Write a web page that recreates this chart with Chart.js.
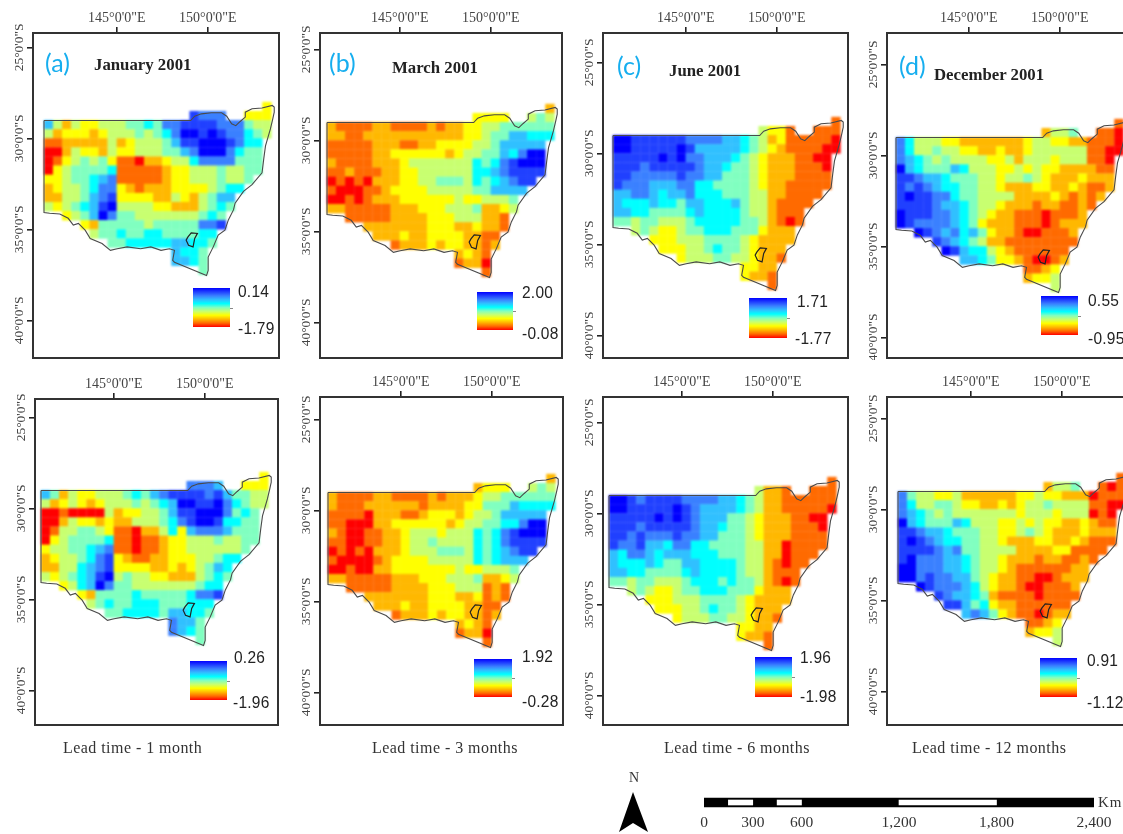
<!DOCTYPE html>
<html><head><meta charset="utf-8">
<script src="https://cdn.jsdelivr.net/npm/chart.js@4"></script>
<style>
html,body{margin:0;padding:0;background:#fff;width:1123px;height:834px;overflow:hidden}
#page{position:relative;width:1123px;height:834px;overflow:hidden;filter:blur(.45px)}
canvas{position:absolute}
canvas.cells{filter:blur(1.3px)}
.t{position:absolute;white-space:nowrap;line-height:1}
.serif{font-family:"Liberation Serif",serif;color:#333}
</style></head><body><div id="page"></div>
<script>
// ---------- colour levels read per grid cell (0 = top of colour bar, 10 = bottom) ----------
const levelsA=[[7],[1,2,2,2,7,7,7],
[3,6,8,6,7,7,6,6,6,5,5,4,5,2,2,1,1,1,1,2,2,2,5,6,6],
[6,8,7,7,7,8,7,6,6,6,5,6,5,4,2,0,0,1,0,1,2,2,4,5,6],
[9,9,8,8,8,8,8,6,8,7,6,6,6,5,3,1,1,0,0,0,1,2,4,4],
[10,10,8,6,7,7,8,6,7,7,6,6,6,5,5,3,2,0,0,0,2,4,5,5],
[10,9,7,6,5,6,5,7,9,9,10,8,8,7,6,6,4,2,2,2,2,5,5,5],
[10,7,6,5,5,5,5,4,9,9,9,9,9,8,7,7,6,6,6,5,6,6,5,5],
[7,7,6,5,5,4,3,2,9,9,9,9,9,8,7,7,6,6,6,5,6,6,5],
[8,7,6,6,5,4,2,2,7,8,9,8,8,8,7,7,7,7,6,5,4,4],
[8,8,6,6,5,3,2,1,7,7,7,7,8,8,6,7,8,6,5,3,3],
[6,7,6,5,4,3,1,0,6,6,6,6,7,7,8,8,8,6,5,4,5],
[7,6,5,3,0,2,5,5,6,6,6,6,6,6,6,5,4,5],
[7,8,5,5,5,5,5,6,5,5,5,5,5,2,2,1],
[6,5,5,4,5,5,4,4,5,5,5,5,4,4],
[5,5,4,4,4,4,4,3,3,4,4,5],
[3,4,4,5],[3,3,4,5],[5]];
const levelsB=[[8],[7,7,7,7,6,5,6],
[8,9,9,9,9,8,8,9,9,9,9,8,9,8,8,7,7,6,6,5,5,5,5,5,5],
[8,8,9,9,8,8,8,8,8,8,8,8,8,8,8,7,7,6,5,5,3,3,4,4,4],
[9,9,9,9,9,8,8,8,9,9,8,8,7,7,7,7,6,6,5,3,3,3,3,3],
[9,9,9,9,9,8,8,7,7,7,7,7,7,8,7,6,6,5,5,3,4,2,0,0],
[8,9,9,9,9,8,8,8,7,6,6,6,6,6,6,6,4,5,4,2,1,0,0,0],
[9,9,8,9,9,9,8,8,7,7,6,6,6,6,6,6,4,4,3,2,1,1,1,1],
[10,9,10,9,10,8,8,8,7,7,6,6,5,5,5,6,4,5,4,3,2,1,1],
[9,10,10,10,9,9,8,7,7,7,7,6,6,6,6,6,5,5,3,3,3,3],
[10,10,9,10,9,8,8,8,7,7,7,7,7,7,6,7,7,6,6,6,5],
[8,8,9,9,9,9,9,8,8,8,7,7,7,6,6,6,5,8,8,7,6],
[9,9,9,9,9,8,8,8,8,7,7,7,6,6,6,8,8,9],
[8,8,8,8,8,8,8,7,7,7,8,8,7,8,8,9],
[8,8,8,7,8,8,7,7,7,7,8,8,9,9],
[9,8,8,8,7,8,7,7,8,8,9,8],
[8,7,8,9],[9,8,8,10],[9]];
const levelsC=[[9],[6,7,7,9,9,9,9],
[0,0,1,1,1,1,1,1,2,2,2,2,3,3,4,5,6,8,7,9,9,9,9,9,10],
[0,0,1,1,1,1,1,0,1,3,3,3,3,3,4,5,6,7,8,9,9,9,9,10,10],
[1,1,1,1,1,0,1,0,2,2,3,3,3,4,5,6,7,8,8,8,9,9,10,10],
[1,1,1,2,1,1,1,1,1,2,3,3,4,5,5,6,7,8,8,8,9,9,9,10],
[1,1,2,2,2,2,2,1,2,2,3,3,5,5,5,6,7,8,8,8,9,9,9,9],
[1,2,2,2,3,3,3,2,2,4,4,5,5,5,5,6,7,8,8,9,9,9,9,9],
[3,3,2,2,3,4,3,3,2,4,4,4,5,5,5,6,6,8,8,9,9,9,9],
[3,4,4,4,3,4,4,5,3,3,4,4,4,3,5,6,6,8,9,9,9,9],
[3,3,4,4,5,5,5,5,4,3,4,4,4,4,5,6,6,8,9,9,9],
[5,5,6,5,5,6,6,6,5,4,4,4,4,4,5,5,6,8,9,10,9],
[6,5,6,7,7,6,5,5,4,4,4,5,5,5,7,8,8,8],
[7,7,7,6,6,6,5,5,5,5,6,7,8,8,8,8],
[7,7,7,6,6,5,4,5,5,6,7,8,8,8],
[7,6,6,6,5,5,6,6,7,8,8,9],
[7,7,8,8],[7,8,8,9],[9]];
const levelsD=[[9],[8,6,6,5,9,9,10],
[2,4,6,6,6,7,7,8,8,8,8,8,8,8,7,6,6,7,7,8,8,9,9,9,10],
[2,4,6,6,5,6,6,7,7,8,8,7,8,8,7,6,6,6,6,6,6,9,9,10,10],
[2,3,4,5,6,5,6,6,6,6,7,7,6,8,6,6,6,7,6,6,6,9,9,10],
[0,3,4,5,5,5,3,4,6,6,6,7,7,6,7,6,7,7,8,8,8,8,9,9],
[1,1,2,3,3,4,5,5,5,6,6,7,6,6,5,6,7,8,8,8,7,8,8,8],
[1,2,1,2,3,4,4,5,5,6,6,7,8,8,8,7,7,8,8,7,8,9,9,8],
[1,0,1,1,2,2,4,5,5,6,6,6,6,8,8,8,8,7,8,9,8,9,8],
[1,1,1,1,2,3,3,4,5,6,6,7,8,8,8,9,8,8,9,9,8,9],
[0,1,1,1,2,2,3,4,5,6,7,8,8,9,9,9,10,9,9,9,8],
[0,1,2,2,2,2,3,4,5,7,8,8,8,9,9,9,10,9,8,8,8],
[0,1,2,3,2,4,3,5,7,8,8,9,10,10,9,9,9,8],
[1,2,3,4,5,6,8,8,9,9,9,9,9,9,9,9],
[0,1,3,4,4,6,7,8,9,9,9,9,9,9],
[3,3,4,5,7,7,8,9,10,10,9,8],
[9,9,8,7],[8,7,7,6],[6]];
const levelsE=[[7],[2,2,2,3,7,7,7],
[3,5,8,6,7,7,6,6,6,5,4,5,3,2,1,1,1,1,2,1,3,5,5,6,6],
[6,8,7,6,7,8,7,6,6,6,5,6,5,4,3,0,0,1,1,0,2,4,5,6,6],
[10,10,9,10,10,10,10,6,8,7,7,6,6,5,3,1,1,0,0,0,2,5,4,5],
[10,10,8,6,7,7,8,7,8,8,6,6,6,5,4,2,1,0,0,1,4,4,5,5],
[10,9,6,6,5,5,6,7,9,9,10,8,8,6,4,7,3,2,2,2,3,5,5,5],
[10,7,6,5,5,5,5,4,9,9,10,9,9,8,7,7,6,6,6,5,6,6,5,5],
[7,6,6,5,5,4,3,2,9,9,10,9,9,8,7,7,6,6,6,6,6,6,5],
[8,7,6,6,5,4,2,1,7,8,9,9,8,8,7,7,7,6,6,5,4,4],
[8,8,6,6,4,3,2,1,7,7,7,7,8,8,7,8,7,6,5,3,4],
[6,7,6,5,4,3,1,0,6,5,6,6,7,7,8,8,8,6,5,4,5],
[7,6,4,3,0,2,5,5,6,6,6,6,6,6,6,5,4,4],
[7,8,5,5,5,5,4,5,5,5,5,5,4,2,2,1],
[6,5,4,5,5,4,4,4,5,5,5,4,4,4],
[5,5,4,4,4,4,5,3,3,4,4,5],
[2,3,3,5],[2,3,4,5],[5]];
const levelsF=[[8],[8,7,7,7,6,5,6],
[8,9,9,9,9,8,8,9,9,9,9,8,9,8,8,8,7,6,6,5,5,5,5,5,5],
[8,9,9,9,8,8,8,8,8,8,9,8,8,8,8,7,7,5,5,5,3,4,4,4,4],
[9,9,9,9,10,8,8,8,9,9,8,7,7,7,8,7,6,6,5,3,3,3,3,3],
[9,9,10,10,10,8,8,7,7,7,7,7,7,8,7,6,6,5,5,4,4,2,0,0],
[8,9,10,10,9,9,8,8,7,6,6,6,7,6,6,6,4,5,4,2,1,0,0,0],
[9,9,10,10,9,9,8,8,7,6,6,5,6,6,6,6,4,5,4,2,1,1,1,1],
[10,9,10,9,10,8,8,8,7,6,6,6,5,5,5,6,4,5,4,3,2,1,1],
[9,10,10,10,10,9,8,7,7,7,7,6,6,6,6,6,4,5,4,3,3,3],
[10,10,9,10,10,8,8,7,7,7,7,7,7,7,6,7,7,6,6,6,5],
[8,8,9,9,9,9,9,8,8,8,7,7,7,6,6,6,5,8,8,7,6],
[9,9,9,9,9,8,8,8,8,7,7,7,6,6,6,9,8,9],
[8,8,8,8,8,8,8,7,7,7,8,8,7,9,8,9],
[8,8,8,7,8,8,7,7,7,7,8,8,9,9],
[9,8,8,8,7,8,7,7,8,8,9,8],
[8,7,8,9],[9,8,8,10],[9]];
const levelsG=[[9],[6,8,8,9,9,9,9],
[0,0,1,2,1,1,1,1,2,2,2,2,3,3,4,5,6,8,8,9,9,9,9,9,9],
[0,0,1,1,1,1,1,0,1,2,3,3,3,3,4,5,6,8,8,9,9,9,9,9,10],
[1,1,1,1,1,0,1,0,1,2,3,3,3,5,5,6,7,8,8,8,9,9,10,10],
[1,1,1,2,1,1,1,1,1,2,3,3,4,5,5,6,7,8,8,8,9,9,9,10],
[1,1,2,1,2,2,2,1,2,2,3,3,5,5,5,6,7,8,8,8,9,9,9,9],
[1,2,2,1,3,3,4,2,2,4,4,5,5,5,5,6,6,8,8,10,9,9,9,9],
[3,4,2,2,3,4,3,3,3,4,4,4,5,5,5,6,6,8,8,10,9,9,9],
[3,4,4,4,3,4,5,5,3,3,4,4,4,4,5,6,6,8,9,10,9,9],
[3,3,4,4,5,5,5,5,4,3,4,4,4,4,5,6,6,8,9,9,9],
[5,5,6,5,5,6,6,6,5,4,4,4,5,4,5,5,6,8,9,10,9],
[6,5,6,7,7,6,5,5,4,4,4,5,5,5,7,8,8,8],
[7,7,7,6,6,6,5,5,5,5,6,7,8,8,8,8],
[7,7,7,6,6,5,4,5,5,6,7,8,8,8],
[7,6,6,6,5,5,6,6,7,8,8,9],
[7,7,8,8],[7,8,8,9],[9]];
const levelsH=[[9],[8,6,6,5,9,10,9],
[2,5,6,6,7,7,6,8,8,8,8,8,8,7,7,6,7,7,8,8,8,10,9,9,9],
[2,4,6,6,5,5,6,7,7,8,8,7,8,7,6,6,5,6,6,6,6,9,9,10,10],
[2,3,4,5,6,5,6,6,6,6,6,6,6,7,6,6,6,7,6,6,6,10,9,10],
[0,3,4,5,5,5,3,4,6,6,6,7,7,6,7,6,7,7,8,8,7,8,9,9],
[1,1,2,3,3,4,5,5,5,6,6,7,7,6,5,6,7,8,8,8,7,8,8,8],
[1,0,1,2,3,4,4,5,5,6,6,7,8,8,8,7,7,8,8,7,8,9,9,9],
[1,1,1,1,2,3,2,5,5,6,6,6,6,8,8,8,8,7,7,9,9,9,9],
[1,0,2,2,2,3,3,4,5,6,6,7,8,8,8,9,8,8,9,9,8,9],
[0,0,2,2,2,3,3,4,5,6,6,7,8,9,9,9,9,9,9,8,8],
[0,0,2,1,2,2,3,3,5,6,7,8,8,9,9,10,10,9,8,8,8],
[0,1,2,2,2,3,4,6,7,8,8,9,10,10,9,9,9,8],
[1,2,3,3,4,5,8,9,9,9,9,10,9,9,9,9],
[1,1,3,5,4,7,8,8,9,9,9,9,9,9],
[3,2,3,5,7,8,9,9,10,9,8,8],
[9,9,8,7],[8,7,7,6],[6]];

// which grid columns each row of a level table fills
const rowRuns=[[[24,24]],[[16,19],[22,24]],[[0,24]],[[0,24]],[[0,23]],[[0,23]],[[0,23]],[[0,23]],[[0,22]],[[0,21]],[[0,20]],[[0,20]],[[2,19]],[[4,19]],[[5,18]],[[7,18]],[[14,17]],[[14,17]],[[17,17]]];
const colourRamp=['#0000ff','#2040ff','#3a80ff','#30c0ff','#00ffff','#80ffc0','#c8ff70','#ffff00','#ffb800','#ff6a00','#ff0000'];

// outlines (longitude, latitude)
const stateLon=[141,149.06,149.28,149.65,150.2,150.76,151.04,151.31,151.54,151.78,152.06,152.06,152.43,152.98,153.54,153.65,153.65,153.57,153.44,153.17,153.07,152.98,152.43,151.96,151.5,151.41,151.13,150.94,150.57,150.3,150.02,150.02,149.93,148.17,148.07,148.17,147.89,147.43,146.87,146.31,145.57,145.02,144.65,144.19,143.54,143.26,142.89,142.61,142.33,141.87,141.31,141,141];
const stateLat=[-29.02,-29.02,-28.78,-28.65,-28.59,-28.59,-28.78,-29.2,-29.3,-29.07,-28.83,-28.56,-28.37,-28.33,-28.19,-28.28,-28.56,-28.93,-29.48,-30.41,-31.15,-31.89,-32.54,-32.91,-33.56,-33.93,-34.48,-35.04,-35.31,-35.96,-36.52,-37.26,-37.54,-36.8,-36.7,-36.15,-36.06,-36.15,-35.96,-36.06,-35.96,-36.06,-36.15,-35.78,-35.5,-35.04,-34.67,-34.76,-34.39,-34.15,-34.11,-34.07,-29.02];
const actLon=[148.91,149.09,149.43,149.28,149.19,148.94,148.81,148.91];
const actLat=[-35.41,-35.19,-35.22,-35.5,-35.96,-35.87,-35.59,-35.41];

const lonTicks=[145,150];
const latTicks=[-25,-30,-35,-40];
const barTop=['0.14','2.00','1.71','0.55','0.26','1.92','1.96','0.91'];
const barBottom=['-1.79','-0.08','-1.77','-0.95','-1.96','-0.28','-1.98','-1.12'];
const letters=['(a)','(b)','(c)','(d)'];
const months=['January 2001','March 2001','June 2001','December 2001'];
const leadTimes=['Lead time - 1 month','Lead time - 3 months','Lead time - 6 months','Lead time - 12 months'];
const scaleStops=[0,300,600,1200,1800,2400];
const scaleWhite=[[150,300],[450,600],[1200,1800]];
const allLevels=[levelsA,levelsB,levelsC,levelsD,levelsE,levelsF,levelsG,levelsH];

// frame [L,T,R,B], map origin [x,y], colour bar [x,y,w,h], bar-label positions
const layoutBoxes=[
 {f:[33,33,279,358],m:[44,102],b:[193,288,37,39],tl:[238,291],bl:[238,328]},
 {f:[320,33,562,358],m:[327,104],b:[477,292,36,38],tl:[522,292],bl:[522,333]},
 {f:[603,33,848,358],m:[613,117],b:[749,298,38,40],tl:[797,301],bl:[795,338]},
 {f:[887,33,1132,358],m:[896,119],b:[1041,296,37,39],tl:[1088,300],bl:[1088,338]},
 {f:[35,399,278,725],m:[41,472],b:[190,661,37,39],tl:[234,657],bl:[233,702]},
 {f:[320,397,563,725],m:[328,474],b:[474,659,38,38],tl:[522,656],bl:[522,701]},
 {f:[603,397,848,725],m:[609,477],b:[755,657,37,40],tl:[800,657],bl:[800,696]},
 {f:[887,397,1132,725],m:[898,473],b:[1040,658,37,39],tl:[1087,660],bl:[1087,702]}];
const letterPos=[[45,62],[329,62],[617,65],[899,65]];
const monthPos=[[94,65],[392,68],[669,71],[934,75]];
const leadPos=[[63,748],[372,748],[664,748],[912,748]];

const page=document.getElementById('page');
const PX=18.2, GUT=33, PAD=2;
function text(str,x,y,css,cls){const d=document.createElement('div');d.className='t '+(cls||'');d.textContent=str;d.style.cssText+=`left:${x}px;top:${y}px;transform:translateY(-50%);`+css;page.appendChild(d);return d;}

const frameBox={id:'frameBox',afterDraw(c){const a=c.chartArea,g=c.ctx;g.save();g.strokeStyle='#333';g.lineWidth=2;g.strokeRect(a.left,a.top,a.right-a.left,a.bottom-a.top);g.restore();}};

function cellsOf(levels){
  const pts=[];
  levels.forEach((row,r)=>{
    let i=0;
    rowRuns[r].forEach(([a,b])=>{for(let c=a;c<=b&&i<row.length;c++,i++)
      pts.push({x:141.25+0.5*c,y:-28.25-0.5*r,v:row[i]});});
  });
  return pts;
}
const toXY=(xs,ys)=>xs.map((x,i)=>({x,y:ys[i]}));

function makeCanvas(cls,l,t,W,H){const cv=document.createElement('canvas');cv.className=cls;
  cv.style.cssText=`left:${l}px;top:${t}px;width:${W}px;height:${H}px`;cv.width=W;cv.height=H;page.appendChild(cv);return cv;}

function mapOptions(withAxes,xMin,xMax,yMin,yMax){
  const grid={display:withAxes,drawOnChartArea:false,drawTicks:true,tickLength:6,color:'#222',lineWidth:1.6};
  return {responsive:false,animation:false,events:[],
    layout:{padding:{right:PAD,bottom:PAD,top:0,left:0}},
    plugins:{legend:{display:false},tooltip:{enabled:false}},
    scales:{
      x:{type:'linear',position:'top',min:xMin,max:xMax,grid,border:{display:false},
         afterBuildTicks:s=>{s.ticks=lonTicks.map(v=>({value:v}));},afterFit:s=>{s.height=GUT;},
         ticks:{display:withAxes,autoSkip:false,maxRotation:0,minRotation:0,padding:0,color:'#444',font:{family:'"Liberation Serif"',size:14},callback:v=>v+'°0\'0"E'}},
      y:{type:'linear',position:'left',min:yMin,max:yMax,grid,border:{display:false},
         afterBuildTicks:s=>{s.ticks=latTicks.map(v=>({value:v}));},afterFit:s=>{s.width=GUT;},
         ticks:{display:withAxes,autoSkip:false,minRotation:90,maxRotation:90,crossAlign:'center',padding:-16,color:'#444',font:{family:'"Liberation Serif"',size:13.5},callback:v=>Math.abs(v)+'°0\'0"S'}}
    }};
}

allLevels.forEach((levels,p)=>{
  const L=layoutBoxes[p],[l,t,r,b]=L.f;
  const W=r-l+GUT+PAD,H=b-t+GUT+PAD;
  const xMin=141-(L.m[0]-l)/PX, xMax=xMin+(r-l)/PX;
  const yMax=-28+(L.m[1]-t)/PX, yMin=yMax-(b-t)/PX;
  // soft raster layer
  new Chart(makeCanvas('cells',l-GUT,t-GUT,W,H),{type:'scatter',data:{datasets:[
    {data:cellsOf(levels),pointStyle:'rect',pointBorderWidth:0,
     backgroundColor:c=>colourRamp[c.raw.v],
     pointRadius:c=>{const s=c.chart.scales.x;return (Math.abs(s.getPixelForValue(0.5)-s.getPixelForValue(0))+0.3)/Math.SQRT2;}}
  ]},options:mapOptions(false,xMin,xMax,yMin,yMax)});
  // axes, frame and outlines
  new Chart(makeCanvas('axes',l-GUT,t-GUT,W,H),{type:'scatter',plugins:[frameBox],data:{datasets:[
    {data:toXY(actLon,actLat),showLine:true,borderColor:'#222',borderWidth:1.2,pointRadius:0},
    {data:toXY(stateLon,stateLat),showLine:true,borderColor:'#4a4a4a',borderWidth:1.1,pointRadius:0}
  ]},options:mapOptions(true,xMin,xMax,yMin,yMax)});
  // colour bar
  const bar=document.createElement('div');const[bx,by,bw,bh]=L.b;
  bar.style.cssText=`position:absolute;left:${bx}px;top:${by}px;width:${bw}px;height:${bh}px;background:linear-gradient(to bottom,${colourRamp.join(',')})`;
  page.appendChild(bar);
  const dash=document.createElement('div');
  dash.style.cssText=`position:absolute;left:${bx+bw}px;top:${by+bh/2}px;width:3px;height:1px;background:#888`;page.appendChild(dash);
  const barFont='font:15.5px "Liberation Sans";color:#222;letter-spacing:.25px;';
  text(barTop[p],L.tl[0],L.tl[1],barFont+'transform:translateY(-50%) scaleY(1.12);');
  text(barBottom[p],L.bl[0],L.bl[1],barFont+'transform:translateY(-50%) scaleY(1.12);');
});

letters.forEach((s,i)=>text(s,letterPos[i][0],letterPos[i][1],'font:25px Lato;color:#16aeef;'));
months.forEach((s,i)=>text(s,monthPos[i][0],monthPos[i][1],'font:bold 16.8px "Liberation Serif";color:#222;'));
leadTimes.forEach((s,i)=>text(s,leadPos[i][0],leadPos[i][1],'font:16px "Liberation Serif";letter-spacing:.45px;','serif'));

// north arrow
text('N',634,778,'font:14px "Liberation Serif";transform:translate(-50%,-50%);color:#333;');
const ns='http://www.w3.org/2000/svg',svg=document.createElementNS(ns,'svg');
svg.setAttribute('width','40');svg.setAttribute('height','44');
svg.style.cssText='position:absolute;left:614px;top:790px';
const poly=document.createElementNS(ns,'polygon');poly.setAttribute('points','19,2 5,42 19,33 34,42');poly.setAttribute('fill','#000');svg.appendChild(poly);page.appendChild(svg);

// scale bar
new Chart(makeCanvas('scale',674,790,450,44),{type:'bar',data:{labels:['km'],datasets:[
  ...scaleWhite.map(w=>({data:[w],backgroundColor:'#fff',barThickness:5,grouped:false,order:0})),
  {data:[[0,2400]],backgroundColor:'#000',barThickness:9,grouped:false,order:1}
]},options:{indexAxis:'y',responsive:false,animation:false,events:[],
  layout:{padding:{left:30,right:30,top:3,bottom:0}},
  plugins:{legend:{display:false},tooltip:{enabled:false}},
  scales:{y:{display:false},
    x:{type:'linear',min:0,max:2400,grid:{display:false,drawTicks:false},border:{display:false},
       afterBuildTicks:s=>{s.ticks=scaleStops.map(v=>({value:v}));},afterFit:s=>{s.height=22;},
       ticks:{autoSkip:false,maxRotation:0,padding:2,color:'#333',font:{family:'"Liberation Serif"',size:15.5},callback:v=>v.toLocaleString('en-US')}}}}});
text('Km',1098,802,'font:15px "Liberation Serif";letter-spacing:1px;','serif');
</script></body></html>
